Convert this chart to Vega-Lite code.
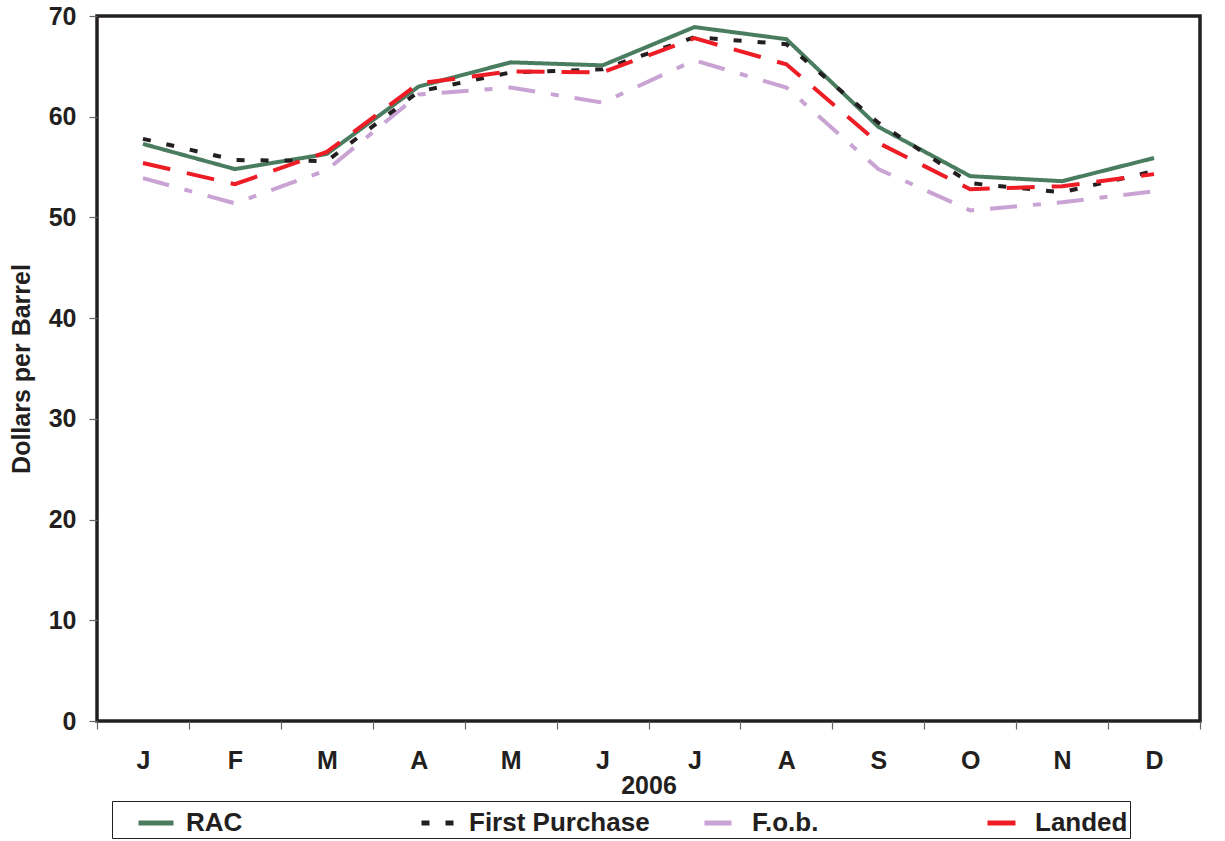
{
  "$schema": "https://vega.github.io/schema/vega-lite/v6.json",
  "autosize": "none",
  "width": 1103,
  "height": 705,
  "padding": {"left": 97, "top": 16, "right": 25, "bottom": 120},
  "background": "white",
  "config": {
    "font": "Liberation Sans",
    "view": {"stroke": "#231f20", "strokeWidth": 3.5},
    "axis": {
      "labelFont": "Liberation Sans", "labelFontWeight": "bold", "labelFontSize": 25, "labelColor": "#231f20",
      "titleFont": "Liberation Sans", "titleFontWeight": "bold", "titleFontSize": 25, "titleColor": "#231f20",
      "domain": false, "grid": false, "tickColor": "#666", "tickWidth": 1.2, "tickSize": 8
    },
    "legend": {
      "labelFont": "Liberation Sans", "labelFontWeight": "bold", "labelFontSize": 26, "labelColor": "#231f20"
    }
  },
  "data": {
    "values": [
      {"month": "Jan", "series": "RAC", "price": 57.3},
      {"month": "Feb", "series": "RAC", "price": 54.8},
      {"month": "Mar", "series": "RAC", "price": 56.3},
      {"month": "Apr", "series": "RAC", "price": 63.0},
      {"month": "May", "series": "RAC", "price": 65.4},
      {"month": "Jun", "series": "RAC", "price": 65.1},
      {"month": "Jul", "series": "RAC", "price": 68.9},
      {"month": "Aug", "series": "RAC", "price": 67.7},
      {"month": "Sep", "series": "RAC", "price": 59.0},
      {"month": "Oct", "series": "RAC", "price": 54.1},
      {"month": "Nov", "series": "RAC", "price": 53.6},
      {"month": "Dec", "series": "RAC", "price": 55.9},
      {"month": "Jan", "series": "F.o.b.", "price": 53.9},
      {"month": "Feb", "series": "F.o.b.", "price": 51.4},
      {"month": "Mar", "series": "F.o.b.", "price": 54.7},
      {"month": "Apr", "series": "F.o.b.", "price": 62.2},
      {"month": "May", "series": "F.o.b.", "price": 62.9},
      {"month": "Jun", "series": "F.o.b.", "price": 61.4},
      {"month": "Jul", "series": "F.o.b.", "price": 65.6},
      {"month": "Aug", "series": "F.o.b.", "price": 62.9},
      {"month": "Sep", "series": "F.o.b.", "price": 54.8},
      {"month": "Oct", "series": "F.o.b.", "price": 50.7},
      {"month": "Nov", "series": "F.o.b.", "price": 51.5},
      {"month": "Dec", "series": "F.o.b.", "price": 52.6},
      {"month": "Jan", "series": "First Purchase", "price": 57.8},
      {"month": "Feb", "series": "First Purchase", "price": 55.7},
      {"month": "Mar", "series": "First Purchase", "price": 55.6},
      {"month": "Apr", "series": "First Purchase", "price": 62.5},
      {"month": "May", "series": "First Purchase", "price": 64.4},
      {"month": "Jun", "series": "First Purchase", "price": 64.7},
      {"month": "Jul", "series": "First Purchase", "price": 67.9},
      {"month": "Aug", "series": "First Purchase", "price": 67.2},
      {"month": "Sep", "series": "First Purchase", "price": 59.4},
      {"month": "Oct", "series": "First Purchase", "price": 53.4},
      {"month": "Nov", "series": "First Purchase", "price": 52.5},
      {"month": "Dec", "series": "First Purchase", "price": 54.6},
      {"month": "Jan", "series": "Landed", "price": 55.4},
      {"month": "Feb", "series": "Landed", "price": 53.3},
      {"month": "Mar", "series": "Landed", "price": 56.5},
      {"month": "Apr", "series": "Landed", "price": 63.3},
      {"month": "May", "series": "Landed", "price": 64.5},
      {"month": "Jun", "series": "Landed", "price": 64.4},
      {"month": "Jul", "series": "Landed", "price": 67.8},
      {"month": "Aug", "series": "Landed", "price": 65.2},
      {"month": "Sep", "series": "Landed", "price": 57.4},
      {"month": "Oct", "series": "Landed", "price": 52.8},
      {"month": "Nov", "series": "Landed", "price": 53.1},
      {"month": "Dec", "series": "Landed", "price": 54.3}
    ]
  },
  "mark": {"type": "line", "strokeWidth": 4, "strokeCap": "butt", "strokeJoin": "miter"},
  "encoding": {
    "x": {
      "field": "month", "type": "ordinal",
      "sort": ["Jan","Feb","Mar","Apr","May","Jun","Jul","Aug","Sep","Oct","Nov","Dec"],
      "scale": {"type": "band", "paddingInner": 0, "paddingOuter": 0},
      "axis": {"title": "2006", "labelAngle": 0, "labelExpr": "substring(datum.label, 0, 1)", "tickBand": "extent", "labelPadding": 19, "titlePadding": 0}
    },
    "y": {
      "field": "price", "type": "quantitative",
      "scale": {"domain": [0, 70], "nice": false},
      "axis": {"title": "Dollars per Barrel", "values": [0,10,20,30,40,50,60,70], "labelPadding": 13, "titlePadding": 14}
    },
    "color": {
      "field": "series", "type": "nominal",
      "scale": {"domain": ["RAC", "First Purchase", "F.o.b.", "Landed"], "range": ["#4a7d60", "#231f20", "#c9a3d3", "#ee1c25"]},
      "legend": {
        "title": " ", "titleOrient": "left", "titleFontSize": 26, "titlePadding": 22,
        "orient": "none", "legendX": 15, "legendY": 785, "direction": "horizontal", "columns": 4,
        "gridAlign": "all", "columnPadding": 44, "symbolType": "stroke", "symbolSize": 1225, "symbolStrokeWidth": 5,
        "labelOffset": 10, "padding": 2, "strokeColor": "#231f20", "labelLimit": 400
      }
    },
    "strokeDash": {
      "field": "series", "type": "nominal",
      "scale": {"domain": ["RAC", "First Purchase", "F.o.b.", "Landed"], "range": [[1, 0], [8, 16], [27, 16, 8, 16], [28, 17]]},
      "legend": {
        "title": " ", "titleOrient": "left", "titleFontSize": 26, "titlePadding": 22,
        "orient": "none", "legendX": 15, "legendY": 785, "direction": "horizontal", "columns": 4,
        "gridAlign": "all", "columnPadding": 44, "symbolType": "stroke", "symbolSize": 1225, "symbolStrokeWidth": 5,
        "labelOffset": 10, "padding": 2, "strokeColor": "#231f20", "labelLimit": 400
      }
    }
  }
}
